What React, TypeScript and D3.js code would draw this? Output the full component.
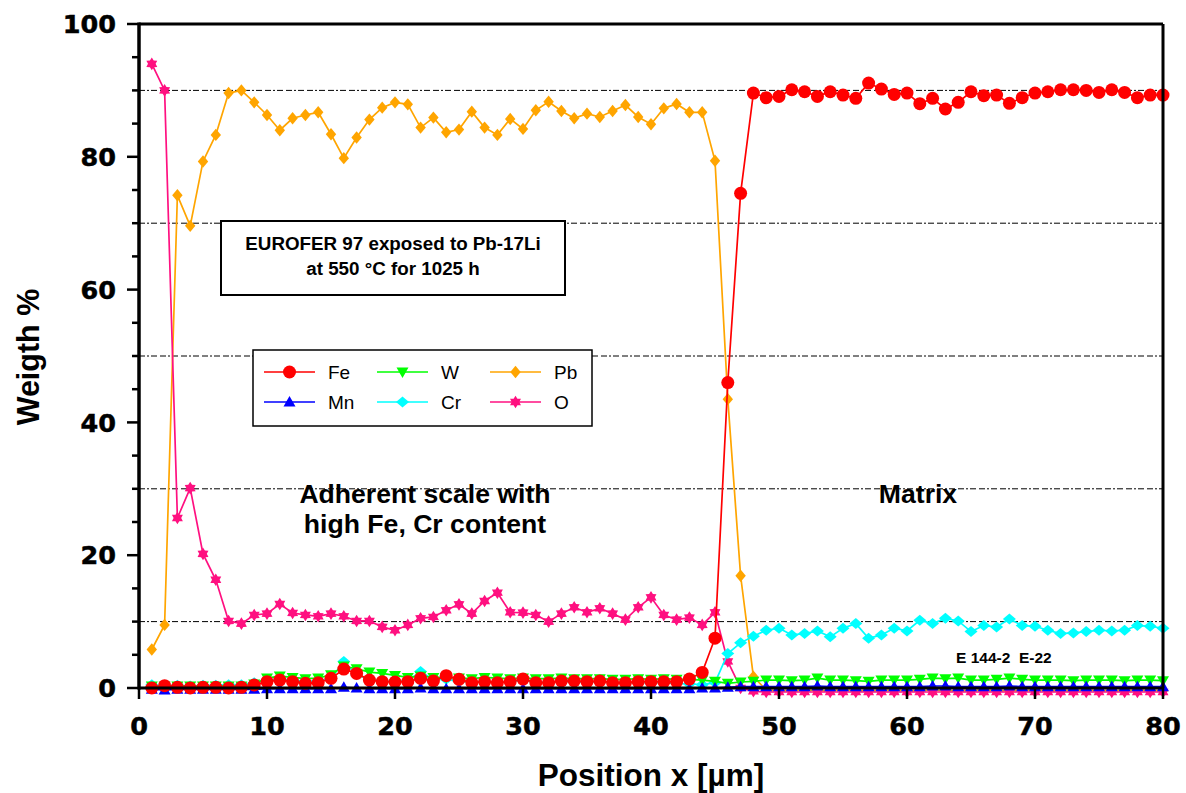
import React from "react";
import * as d3 from "d3";

// ---- data ----
const positions = [
  1, 2, 3, 4, 5, 6, 7, 8, 9, 10, 11, 12, 13, 14, 15, 16, 17, 18, 19, 20,
  21, 22, 23, 24, 25, 26, 27, 28, 29, 30, 31, 32, 33, 34, 35, 36, 37, 38, 39, 40,
  41, 42, 43, 44, 45, 46, 47, 48, 49, 50, 51, 52, 53, 54, 55, 56, 57, 58, 59, 60,
  61, 62, 63, 64, 65, 66, 67, 68, 69, 70, 71, 72, 73, 74, 75, 76, 77, 78, 79, 80,
];

const feValues = [
  0, 0.35, 0.1, 0, 0.1, 0.1, 0, 0.1, 0.45, 0.95,
  1.2, 0.95, 0.7, 0.8, 1.45, 2.85, 2.2, 1.2, 0.95, 0.9,
  0.95, 1.45, 1.05, 1.85, 1.3, 0.8, 0.95, 0.8, 0.95, 1.35,
  0.8, 0.8, 1.05, 1.05, 0.95, 1.05, 0.8, 0.8, 0.95, 0.95,
  0.95, 0.95, 1.35, 2.35, 7.5, 46, 74.5, 89.6, 88.9, 89.1,
  90.1, 89.8, 89.1, 89.8, 89.3, 88.8, 91.1, 90.2, 89.4, 89.6,
  88.0, 88.8, 87.2, 88.2, 89.8, 89.2, 89.3, 88.05, 88.9, 89.6,
  89.8, 90.1, 90.1, 90.0, 89.7, 90.1, 89.7, 88.9, 89.3, 89.3,
];

const mnValues = [
  -0.2, -0.3, -0.2, -0.2, -0.2, -0.2, -0.2, -0.2, -0.2, -0.1,
  -0.1, -0.1, -0.1, -0.1, -0.1, 0.1, 0.0, -0.1, -0.1, -0.1,
  -0.1, 0.0, -0.1, -0.1, -0.1, -0.1, -0.1, -0.1, -0.1, -0.1,
  -0.1, -0.1, -0.1, -0.1, -0.1, -0.1, -0.1, -0.1, -0.1, -0.1,
  -0.1, -0.1, -0.1, 0.0, 0.0, 0.1, 0.2, 0.2, 0.2, 0.2,
  0.2, 0.2, 0.3, 0.2, 0.2, 0.2, 0.2, 0.2, 0.2, 0.2,
  0.2, 0.3, 0.3, 0.2, 0.2, 0.2, 0.2, 0.3, 0.2, 0.2,
  0.2, 0.2, 0.2, 0.2, 0.2, 0.2, 0.2, 0.2, 0.2, 0.2,
];

const wValues = [
  0.3, 0.3, 0.3, 0.3, 0.3, 0.3, 0.3, 0.3, 0.6, 1.5,
  1.8, 1.6, 1.4, 1.5, 2.0, 3.3, 2.9, 2.4, 2.2, 1.9,
  1.6, 1.8, 1.6, 1.6, 1.5, 1.4, 1.6, 1.5, 1.4, 1.5,
  1.4, 1.4, 1.5, 1.4, 1.4, 1.4, 1.3, 1.3, 1.4, 1.3,
  1.4, 1.3, 1.3, 1.2, 1.0, 0.7, 0.9, 1.0, 1.2, 1.2,
  1.1, 1.2, 1.5, 1.2, 1.2, 1.1, 1.0, 1.2, 1.2, 1.2,
  1.3, 1.5, 1.4, 1.5, 1.2, 1.2, 1.3, 1.5, 1.3, 1.2,
  1.2, 1.2, 1.1, 1.2, 1.2, 1.2, 1.1, 1.2, 1.2, 1.1,
];

const crValues = [
  0.5, 0.3, 0.4, 0.3, 0.4, 0.4, 0.5, 0.5, 0.8, 1.2,
  1.3, 1.2, 1.0, 1.1, 1.4, 4.0, 2.0, 1.3, 1.0, 1.0,
  1.1, 2.5, 1.3, 1.3, 1.0, 0.9, 1.0, 0.9, 1.0, 1.1,
  0.9, 0.9, 1.0, 0.9, 0.9, 0.9, 0.8, 0.8, 0.8, 0.8,
  0.8, 0.7, 0.6, 0.5, 0.8, 5.2, 6.8, 7.8, 8.7, 9.0,
  8.0, 8.2, 8.6, 7.7, 9.0, 9.7, 7.5, 8.0, 9.0, 8.6,
  10.2, 9.7, 10.5, 10.1, 8.5, 9.4, 9.2, 10.4, 9.4, 9.3,
  8.7, 8.2, 8.3, 8.5, 8.7, 8.6, 8.7, 9.4, 9.3, 9.0,
];

const pbValues = [
  5.8, 9.5, 74.2, 69.6, 79.3, 83.3, 89.6, 90.0, 88.2, 86.3,
  84.0, 85.8, 86.3, 86.7, 83.4, 79.8, 82.9, 85.6, 87.4, 88.2,
  87.9, 84.4, 85.9, 83.7, 84.1, 86.8, 84.4, 83.3, 85.7, 84.2,
  87.0, 88.3, 86.9, 85.8, 86.5, 86.0, 86.9, 87.8, 86.0, 84.9,
  87.3, 87.95, 86.7, 86.7, 79.4, 43.5, 16.9, 1.7, -0.3, -0.4,
  -0.4, -0.3, -0.4, -0.4, -0.3, -0.4, -0.4, -0.4, -0.3, -0.4,
  -0.4, -0.3, -0.4, -0.4, -0.4, -0.3, -0.4, -0.4, -0.4, -0.3,
  -0.4, -0.4, -0.4, -0.3, -0.4, -0.4, -0.4, -0.3, -0.4, -0.4,
];

const oValues = [
  94.0, 90.0, 25.6, 30.1, 20.2, 16.3, 10.1, 9.7, 11.0, 11.2,
  12.65, 11.3, 11.0, 10.8, 11.2, 10.8, 10.1, 10.1, 9.2, 8.7,
  9.5, 10.5, 10.7, 11.7, 12.6, 11.2, 13.1, 14.35, 11.4, 11.35,
  11.0, 10.0, 11.2, 12.15, 11.4, 12.0, 11.2, 10.3, 12.15, 13.65,
  11.0, 10.3, 10.6, 9.5, 11.4, 4.0, 0.0, -0.5, -0.6, -0.6,
  -0.6, -0.6, -0.6, -0.6, -0.6, -0.6, -0.6, -0.6, -0.6, -0.6,
  -0.6, -0.6, -0.6, -0.6, -0.6, -0.6, -0.6, -0.6, -0.6, -0.6,
  -0.6, -0.6, -0.6, -0.6, -0.6, -0.6, -0.6, -0.6, -0.6, -0.6,
];

const xTicks = [0, 10, 20, 30, 40, 50, 60, 70, 80];
const yTicks = [0, 20, 40, 60, 80, 100];
const yMinorTicks = [5, 10, 15, 25, 30, 35, 45, 50, 55, 65, 70, 75, 85, 90, 95];
const yGridLines = [10, 30, 50, 70, 90];

type Shape = "circle" | "triUp" | "triDown" | "diamond" | "diamondSmall" | "star";

const seriesDefs = [
  { name: "Pb", values: pbValues, color: "#FFA500", shape: "diamondSmall" as Shape },
  { name: "O", values: oValues, color: "#FF1080", shape: "star" as Shape },
  { name: "Cr", values: crValues, color: "#00FFFF", shape: "diamond" as Shape },
  { name: "W", values: wValues, color: "#00FF00", shape: "triDown" as Shape },
  { name: "Mn", values: mnValues, color: "#0000FF", shape: "triUp" as Shape },
  { name: "Fe", values: feValues, color: "#FF0000", shape: "circle" as Shape },
];

const legendRows = [
  ["Fe", "W", "Pb"],
  ["Mn", "Cr", "O"],
];

function markerPath(shape: Shape): string {
  switch (shape) {
    case "circle":
      return d3.arc()({ innerRadius: 0, outerRadius: 6.5, startAngle: 0, endAngle: 2 * Math.PI }) as string;
    case "triUp":
      return "M0,-6L6,4.5L-6,4.5Z";
    case "triDown":
      return "M0,6L6,-4.5L-6,-4.5Z";
    case "diamond":
      return "M0,-5.5L6.5,0L0,5.5L-6.5,0Z";
    case "diamondSmall":
      return "M0,-6.2L5.2,0L0,6.2L-5.2,0Z";
    case "star": {
      const pts: [number, number][] = [];
      for (let k = 0; k < 12; k++) {
        const a = -Math.PI / 2 + (k * Math.PI) / 6;
        const r = k % 2 === 0 ? 6.3 : 3.8;
        pts.push([r * Math.cos(a), r * Math.sin(a)]);
      }
      return (d3.line()(pts) as string) + "Z";
    }
  }
}

export default function App() {
  const W = 1186;
  const H = 793;
  const x = d3.scaleLinear().domain([0, 80]).range([139, 1163]);
  const y = d3.scaleLinear().domain([0, 100]).range([688, 24]);

  const line = d3
    .line<[number, number]>()
    .x((d) => x(d[0]))
    .y((d) => y(d[1]));

  const colorOf = (n: string) => seriesDefs.find((s) => s.name === n)!;

  const tickFont = "'DejaVu Sans', sans-serif";
  const textFont = "'Liberation Sans', Arial, sans-serif";

  const legendX0 = 264;
  const legendColW = 113;
  const legendY0 = 372;
  const legendRowH = 30;

  return (
    <svg
      width={W}
      height={H}
      style={{ position: "absolute", left: 0, top: 0, background: "#fff" }}
      xmlns="http://www.w3.org/2000/svg"
    >
      <rect x={0} y={0} width={W} height={H} fill="#fff" />

      {/* grid lines */}
      {yGridLines.map((v) => (
        <line
          key={"g" + v}
          x1={x(0)}
          x2={x(80)}
          y1={y(v)}
          y2={y(v)}
          stroke="#000"
          strokeWidth={1}
          strokeDasharray="6,2,2,2,6,3"
        />
      ))}

      {/* annotation box */}
      <rect x={221} y={221} width={344} height={74} fill="#fff" stroke="#000" strokeWidth={2} />
      <text x={393} y={250} textAnchor="middle" fontFamily={textFont} fontWeight="bold" fontSize={18.8}>
        EUROFER 97 exposed to Pb-17Li
      </text>
      <text x={393} y={275} textAnchor="middle" fontFamily={textFont} fontWeight="bold" fontSize={18.8}>
        at 550 °C for 1025 h
      </text>

      {/* legend */}
      <rect x={253} y={350} width={339} height={76} fill="#fff" stroke="#000" strokeWidth={1.5} />
      {legendRows.map((row, ri) =>
        row.map((name, ci) => {
          const s = colorOf(name);
          const lx = legendX0 + ci * legendColW;
          const ly = legendY0 + ri * legendRowH;
          return (
            <g key={name}>
              <line x1={lx} x2={lx + 51} y1={ly} y2={ly} stroke={s.color} strokeWidth={1.5} />
              <path d={markerPath(s.shape)} transform={`translate(${lx + 25.5},${ly})`} fill={s.color} />
              <text x={lx + 64} y={ly} dy="0.36em" fontFamily={textFont} fontSize={19}>
                {name}
              </text>
            </g>
          );
        })
      )}

      {/* series */}
      {seriesDefs.map((s) => {
        const pts: [number, number][] = positions.map((p, i) => [p, s.values[i]]);
        return (
          <g key={s.name}>
            <path d={line(pts) as string} fill="none" stroke={s.color} strokeWidth={1.7} />
            {pts.map((p, i) => (
              <path
                key={i}
                d={markerPath(s.shape)}
                transform={`translate(${x(p[0])},${y(p[1])})`}
                fill={s.color}
              />
            ))}
          </g>
        );
      })}

      {/* frame */}
      <line x1={x(0)} x2={x(80)} y1={y(100)} y2={y(100)} stroke="#000" strokeWidth={3} />
      <line x1={x(80)} x2={x(80)} y1={y(100)} y2={y(0)} stroke="#000" strokeWidth={3} />
      <line x1={x(0)} x2={x(80)} y1={y(0)} y2={y(0)} stroke="#000" strokeWidth={3} />
      <line x1={x(0)} x2={x(0)} y1={y(100) - 1.5} y2={y(0) + 1.5} stroke="#000" strokeWidth={3.5} />

      {/* y axis ticks */}
      {yTicks.map((v) => (
        <g key={"yt" + v}>
          <line x1={x(0) - 12} x2={x(0)} y1={y(v)} y2={y(v)} stroke="#000" strokeWidth={2.5} />
          <text
            x={116}
            y={y(v)}
            dy="0.36em"
            textAnchor="end"
            fontFamily={tickFont}
            fontWeight="bold"
            fontSize={25.5}
            stroke="#000"
            strokeWidth={0.5}
          >
            {v}
          </text>
        </g>
      ))}
      {yMinorTicks.map((v) => (
        <line key={"ym" + v} x1={x(0) - 7} x2={x(0)} y1={y(v)} y2={y(v)} stroke="#000" strokeWidth={2.5} />
      ))}

      {/* x axis ticks */}
      {xTicks.map((v) => (
        <g key={"xt" + v}>
          <line x1={x(v)} x2={x(v)} y1={y(0)} y2={y(0) + 11} stroke="#000" strokeWidth={2.5} />
          <text
            x={x(v)}
            y={735}
            textAnchor="middle"
            fontFamily={tickFont}
            fontWeight="bold"
            fontSize={25.5}
            stroke="#000"
            strokeWidth={0.5}
          >
            {v}
          </text>
        </g>
      ))}

      {/* axis titles */}
      <text
        transform={`translate(39,357) rotate(-90)`}
        textAnchor="middle"
        fontFamily={textFont}
        fontWeight="bold"
        fontSize={30.5}
      >
        Weigth %
      </text>
      <text x={651} y={786} textAnchor="middle" fontFamily={textFont} fontWeight="bold" fontSize={31.5}>
        Position x [µm]
      </text>

      {/* annotations */}
      <text x={425} y={503} textAnchor="middle" fontFamily={textFont} fontWeight="bold" fontSize={26.6}>
        Adherent scale with
      </text>
      <text x={425} y={533} textAnchor="middle" fontFamily={textFont} fontWeight="bold" fontSize={26.6}>
        high Fe, Cr content
      </text>
      <text x={918} y={503} textAnchor="middle" fontFamily={textFont} fontWeight="bold" fontSize={26.6}>
        Matrix
      </text>
      <text
        x={956}
        y={663}
        fontFamily={textFont}
        fontWeight="bold"
        fontSize={15.5}
        style={{ whiteSpace: "pre" }}
      >
        {"E 144-2  E-22"}
      </text>
    </svg>
  );
}
